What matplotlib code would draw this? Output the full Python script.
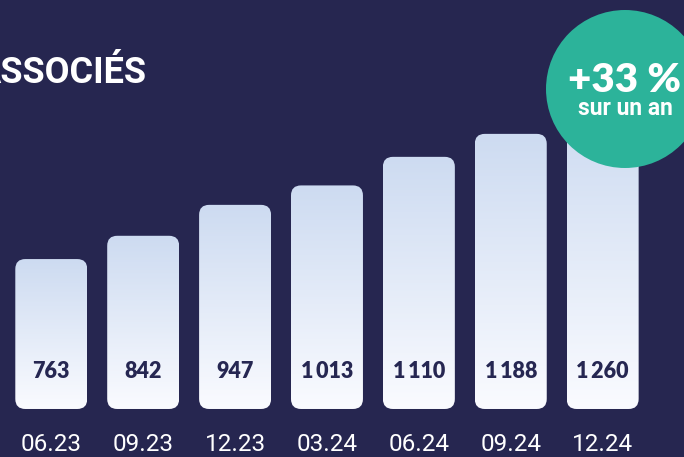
import matplotlib.pyplot as plt
from matplotlib.patches import FancyBboxPatch, Circle
from matplotlib.colors import LinearSegmentedColormap
import numpy as np

# donnees
periodes = ["06.23", "09.23", "12.23", "03.24", "06.24", "09.24", "12.24"]
associes = [763, 842, 947, 1013, 1110, 1188, 1260]
titre = "ASSOCIÉS"
hausse = "+33 %"
hausse_txt = "sur un an"

fond = "#262650"
bleu_haut = "#cddbf1"
bleu_bas = "#fafbff"
teal = "#2cb39a"
marine = "#262752"

base = 254          # pied des barres (echelle)
largeur = 0.783

fig = plt.figure(figsize=(6.84, 4.57), dpi=100)
fig.patch.set_facecolor(fond)
ax = fig.add_axes([0, 0, 1, 1])
ax.set_facecolor(fond)
ax.set_xlim(-0.558, 6.885)
ax.set_ylim(91, 1642.5)
ax.axis("off")

# rayon des coins en unites x, rapport d'echelle y/x
px_x = 91.9       # pixels par unite x
px_y = 0.2946     # pixels par unite y
rayon = 10 / px_x
aspect = px_x / px_y

gradient = np.linspace(0, 1, 256).reshape(-1, 1)
cmap = LinearSegmentedColormap.from_list("g", [bleu_bas, bleu_haut])

for i, v in enumerate(associes):
    x0 = i - largeur / 2
    patch = FancyBboxPatch((x0, base), largeur, v - base,
                           boxstyle=f"round,pad=0,rounding_size={rayon}",
                           mutation_aspect=aspect,
                           facecolor="none", edgecolor="none", zorder=2)
    ax.add_patch(patch)
    im = ax.imshow(gradient, extent=(x0, x0 + largeur, base, v), origin="lower",
                   cmap=cmap, aspect="auto", zorder=2)
    im.set_clip_path(patch)

    lab = f"{v:,}".replace(",", "\u2009")
    ax.text(i, 1 - 371 / 457, lab, transform=ax.get_xaxis_transform(),
            ha="center", va="center", fontsize=15.5, fontweight="heavy",
            family="Lato", color=marine, zorder=3)
    ax.text(i, 1 - 451 / 457, periodes[i], transform=ax.get_xaxis_transform(),
            ha="center", va="baseline", fontsize=17.5, family="Roboto",
            color="white", zorder=3)

# titre (coupe a gauche)
fig.text(147 / 684, 1 - 83 / 457, titre, ha="right", va="baseline",
         fontsize=26, fontweight="bold", family="Roboto", color="white")

# pastille
t = fig.dpi_scale_trans
fig.add_artist(Circle((6.25, 4.57 - 0.89), 0.79, transform=t,
                      facecolor=teal, edgecolor="none", zorder=5))
fig.text(6.25, 4.57 - 0.92, hausse, transform=t, ha="center", va="baseline",
         fontsize=29, fontweight="heavy", family="Lato", color="white", zorder=6)
fig.text(6.25, 4.57 - 1.15, hausse_txt, transform=t, ha="center", va="baseline",
         fontsize=16.5, fontweight="bold", family="Roboto", color="white", zorder=6)

fig.savefig("out.png", dpi=100, facecolor=fond)
